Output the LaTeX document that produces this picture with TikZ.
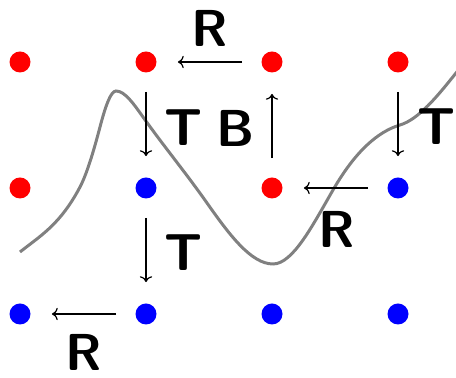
\documentclass[tikz,border=0pt]{standalone}
\usetikzlibrary{arrows.meta}
\begin{document}
\begin{tikzpicture}[x=0.5pt,y=-0.5pt,
  dotr/.style={circle,fill=red,inner sep=0pt,minimum size=10.5pt},
  dotb/.style={circle,fill=blue,inner sep=0pt,minimum size=10.5pt},
  lab/.style={font=\fontsize{26}{26}\selectfont\sffamily\bfseries,inner sep=0pt},
  arr/.style={->,line width=0.6pt,shorten <=9.5pt,shorten >=10.5pt}]
\useasboundingbox (0,0) rectangle (456,378);
\begin{scope}
\clip (0,0) rectangle (456,378);
\draw[gray,line width=1.5pt]
  (20,252) .. controls (40,236) and (60,225) .. (80,187)
  .. controls (86.67,174.3) and (93.33,152.3) .. (100,127)
  .. controls (105.33,106.7) and (110.67,91) .. (116,91)
  .. controls (125,91) and (134,104.4) .. (143,117)
  .. controls (164.33,146.9) and (185.67,172.7) .. (207,203)
  .. controls (229,234.2) and (251,264) .. (273,264)
  .. controls (293,264) and (313,224.6) .. (333,190)
  .. controls (355.33,151.4) and (377.67,131.7) .. (400,125)
  .. controls (418.67,119.4) and (437.33,96.3) .. (456,73)
  -- (468,58);
\end{scope}
% dots
\node[dotr] (a1) at (20,62) {};
\node[dotr] (a2) at (146,62) {};
\node[dotr] (a3) at (272,62) {};
\node[dotr] (a4) at (398,62) {};
\node[dotr] (b1) at (20,188) {};
\node[dotb] (b2) at (146,188) {};
\node[dotr] (b3) at (272,188) {};
\node[dotb] (b4) at (398,188) {};
\node[dotb] (c1) at (20,314) {};
\node[dotb] (c2) at (146,314) {};
\node[dotb] (c3) at (272,314) {};
\node[dotb] (c4) at (398,314) {};
% arrows
\draw[arr] (a3) -- (a2);
\draw[arr] (a2) -- (b2);
\draw[arr] (b3) -- (a3);
\draw[arr] (a4) -- (b4);
\draw[arr] (b4) -- (b3);
\draw[arr] (b2) -- (c2);
\draw[arr] (c2) -- (c1);
% labels
\node[lab] (l1) at (210,28) {R};
\node[lab] (l2) at (184,128) {T};
\node[lab] (l3) at (236,128) {B};
\node[lab] (l4) at (437,127) {T};
\node[lab] (l5) at (337,229) {R};
\node[lab] (l6) at (184,253) {T};
\node[lab] (l7) at (84,352) {R};
\end{tikzpicture}
\end{document}
